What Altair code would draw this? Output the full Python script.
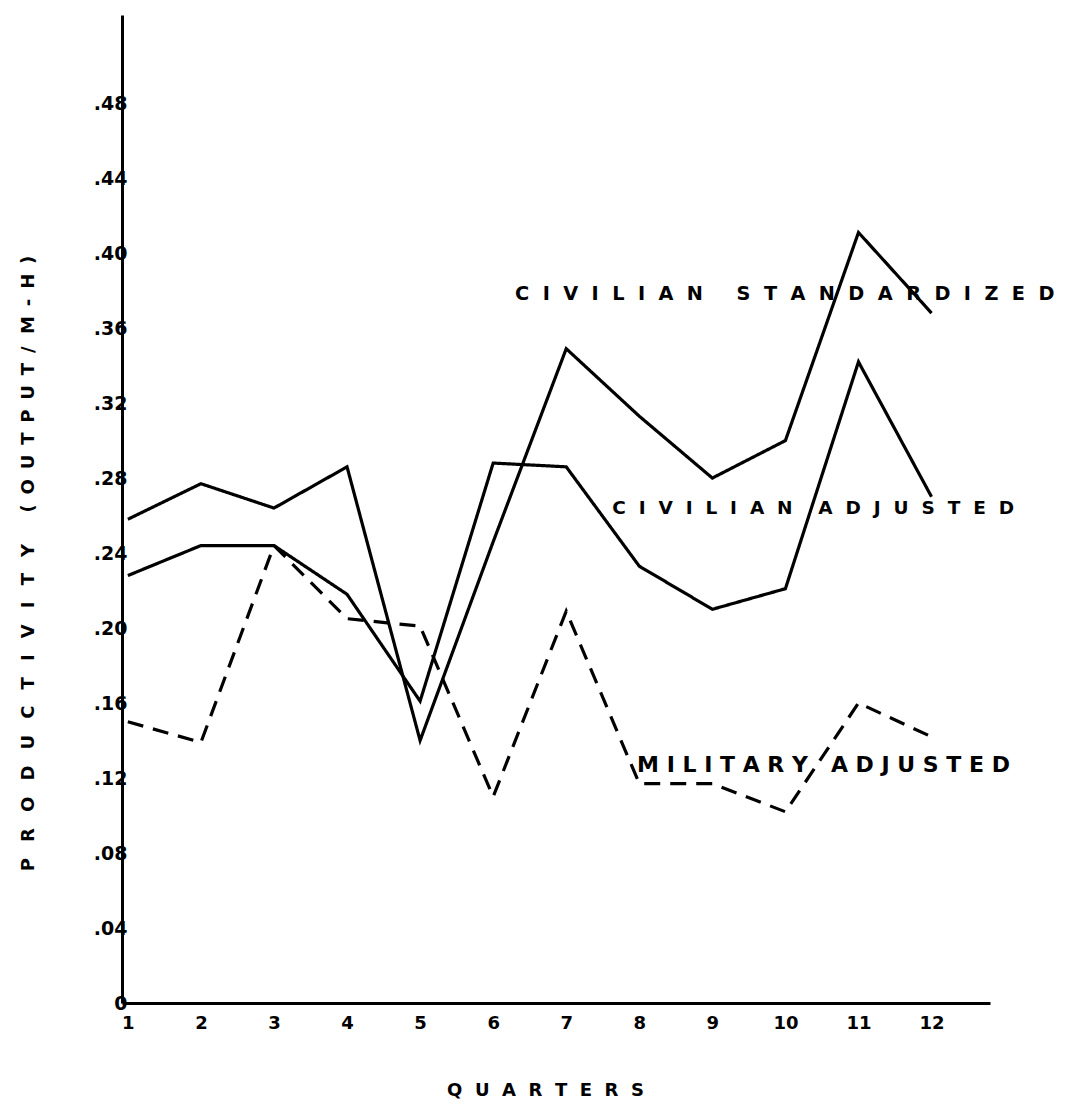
import altair as alt
import pandas as pd

quarters = list(range(1, 13))
civ_std = [0.258, 0.277, 0.264, 0.286, 0.140, 0.246, 0.349, 0.313, 0.280, 0.300, 0.411, 0.368]
civ_adj = [0.228, 0.244, 0.244, 0.218, 0.161, 0.288, 0.286, 0.233, 0.210, 0.221, 0.342, 0.270]
mil_adj = [0.150, 0.139, 0.244, 0.205, 0.201, 0.110, 0.209, 0.117, 0.117, 0.102, 0.160, 0.142]
series_names = ["Civilian Standardized", "Civilian Adjusted", "Military Adjusted"]
y_ticks = [0, 0.04, 0.08, 0.12, 0.16, 0.20, 0.24, 0.28, 0.32, 0.36, 0.40, 0.44, 0.48]

label_text = ["CIVILIAN STANDARDIZED", "CIVILIAN ADJUSTED", "MILITARY ADJUSTED"]
label_x = [6.30, 7.63, 7.97]
label_y = [0.378, 0.264, 0.127]

NB = "\u00a0"
TH = "\u2009"


def spaced(s, gap, word_gap):
    words = s.split(" ")
    return word_gap.join(gap.join(list(w)) for w in words)


rows = []
for name, vals in zip(series_names, [civ_std, civ_adj, mil_adj]):
    for q, v in zip(quarters, vals):
        rows.append({"quarter": q, "value": v, "series": name})
df = pd.DataFrame(rows)

labels_df = pd.DataFrame({
    "text": [spaced(label_text[0], NB * 2, NB * 5),
             spaced(label_text[1], NB * 2, NB * 4),
             spaced(label_text[2], NB, NB * 3)],
    "x": label_x,
    "y": label_y,
    "size": [19.3, 18.5, 22],
})

FONT = "DejaVu Sans"

x_scale = alt.Scale(domain=[0.92, 12.8], nice=False, zero=False)
y_scale = alt.Scale(domain=[0, 0.527], nice=False)

y_title = spaced("PRODUCTIVITY", NB * 2 + TH, NB) + NB * 5 + spaced("(OUTPUT/ M-H)", NB + TH, NB * 2)

lines = alt.Chart(df).mark_line(strokeWidth=3.2, color="black", strokeJoin="miter").encode(
    x=alt.X("quarter:Q", scale=x_scale,
            axis=alt.Axis(values=quarters, format="d", title=spaced("QUARTERS", NB * 2, NB),
                          domainColor="black", domainWidth=3, ticks=False,
                          labelFont=FONT, labelFontWeight="bold", labelFontSize=18,
                          labelColor="black", labelPadding=11, grid=False,
                          titleFont=FONT, titleFontWeight="bold", titleFontSize=18,
                          titleColor="black", titleX=423, titleY=87,
                          titleAnchor="start", titleAlign="center", titleBaseline="middle")),
    y=alt.Y("value:Q", scale=y_scale,
            axis=alt.Axis(values=y_ticks, domainColor="black", domainWidth=3, ticks=False,
                          labelExpr="datum.value == 0 ? '0' : replace(format(datum.value, '.2f'), '0.', '.')",
                          labelFont=FONT, labelFontWeight="bold", labelFontSize=19,
                          labelColor="black", labelPadding=-5, grid=False,
                          title=y_title,
                          titleFont=FONT, titleFontWeight="bold", titleFontSize=18,
                          titleColor="black", titleX=-94, titleY=548, titleAngle=270,
                          titleAlign="center", titleBaseline="middle", titleAnchor="start")),
    strokeDash=alt.StrokeDash("series:N",
                              scale=alt.Scale(domain=series_names,
                                              range=[[1, 0], [1, 0], [16, 10]]),
                              legend=None),
    order="quarter:Q",
)

texts = alt.Chart(labels_df).mark_text(
    align="left", baseline="middle", font=FONT, fontWeight="bold", color="black"
).encode(
    x=alt.X("x:Q", scale=x_scale),
    y=alt.Y("y:Q", scale=y_scale),
    text="text:N",
    size=alt.Size("size:Q", scale=None, legend=None),
)

chart = alt.layer(lines, texts).properties(
    width=868,
    height=988,
    background="white",
    autosize=alt.AutoSizeParams(type="none"),
    padding={"left": 114, "top": 7, "right": 78, "bottom": 100},
).configure_view(stroke=None, strokeWidth=0)

chart.save("out.html", embed_options={"renderer": "svg", "actions": False})
